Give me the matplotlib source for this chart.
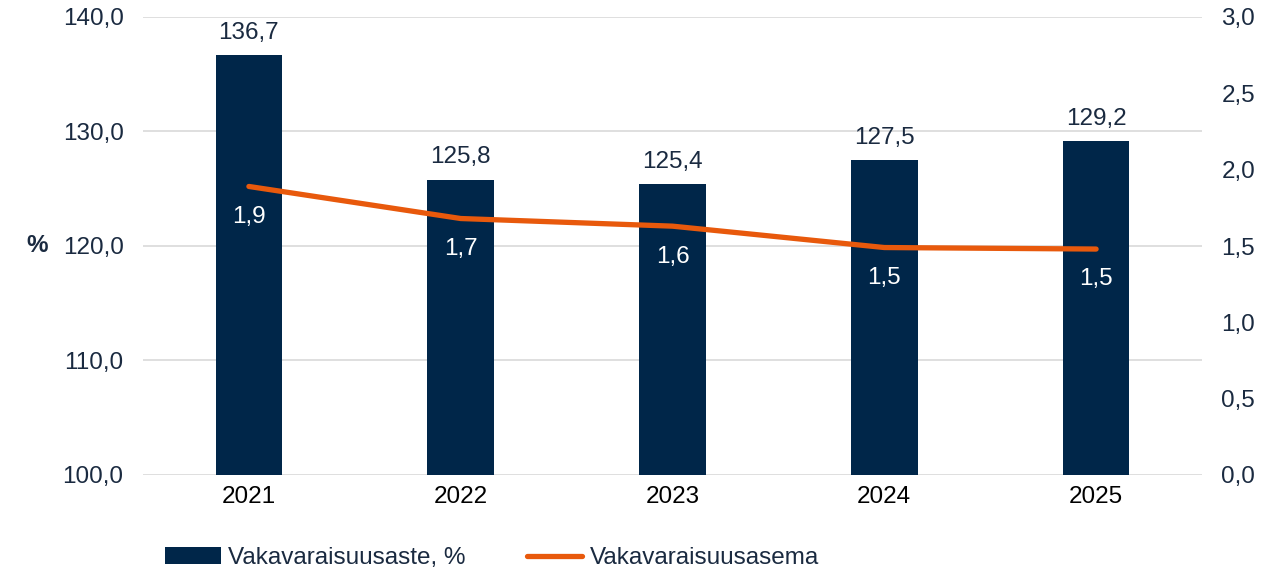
import matplotlib.pyplot as plt
from matplotlib.ticker import FuncFormatter

plt.rcParams['font.family'] = ['Liberation Sans', 'DejaVu Sans']

years = ['2021', '2022', '2023', '2024', '2025']
vakavaraisuusaste = [136.7, 125.8, 125.4, 127.5, 129.2]
vakavaraisuusasema = [1.89, 1.68, 1.63, 1.49, 1.48]

navy = '#002649'
orange = '#e8590c'
text_col = '#1a2a40'
fs = 17.5

fig = plt.figure(figsize=(12.83, 5.71), dpi=100)
ax = fig.add_axes([143 / 1283, 1 - 475 / 571, (1202 - 143) / 1283, (475 - 17) / 571])
ax2 = ax.twinx()

x = range(len(years))
bars = ax.bar(x, vakavaraisuusaste, width=0.315, color=navy, label='Vakavaraisuusaste, %', zorder=2)
line, = ax2.plot(x, vakavaraisuusasema, color=orange, lw=3.8, solid_capstyle='round',
                 label='Vakavaraisuusasema', zorder=3)

ax.set_ylim(100, 140)
ax.set_yticks([100, 110, 120, 130, 140])
ax.set_xlim(-0.5, 4.5)
ax2.set_ylim(0, 3.0)
ax2.set_yticks([0, 0.5, 1.0, 1.5, 2.0, 2.5, 3.0])

fmt = FuncFormatter(lambda v, p: f'{v:.1f}'.replace('.', ','))
ax.yaxis.set_major_formatter(fmt)
ax2.yaxis.set_major_formatter(fmt)

ax.yaxis.grid(True, color='#d9d9d9', lw=1.2, zorder=0)
ax.set_axisbelow(True)
for a in (ax, ax2):
    for s in a.spines.values():
        s.set_visible(False)
    a.tick_params(length=0, labelsize=fs, labelcolor=text_col)
ax.tick_params(axis='y', pad=14)
ax2.tick_params(axis='y', pad=14)
ax.tick_params(axis='x', pad=8, labelcolor='#000000')
ax.set_xticks(list(x))
ax.set_xticklabels(years)

ax.set_ylabel('%', rotation=0, fontsize=fs, fontweight='bold', color=text_col,
              va='center', ha='center')
ax.yaxis.set_label_coords(-0.10, 0.5)

for i, v in enumerate(vakavaraisuusaste):
    ax.annotate(f'{v:.1f}'.replace('.', ','), (i, v), xytext=(0, 8), textcoords='offset points',
                ha='center', va='bottom', fontsize=fs, color=text_col)
for i, v in enumerate(vakavaraisuusasema):
    ax2.annotate(f'{v:.1f}'.replace('.', ','), (i, v), xytext=(0, -14), textcoords='offset points',
                 ha='center', va='top', fontsize=fs, color='white', zorder=4)

fig.legend([bars, line], ['Vakavaraisuusaste, %', 'Vakavaraisuusasema'],
           loc='center', bbox_to_anchor=(492 / 1283, 1 - 558 / 571), ncol=2, frameon=False,
           fontsize=fs, handlelength=2.3, handletextpad=0.3, columnspacing=2.5,
           labelcolor=text_col)

fig.savefig('out.png', dpi=100)
